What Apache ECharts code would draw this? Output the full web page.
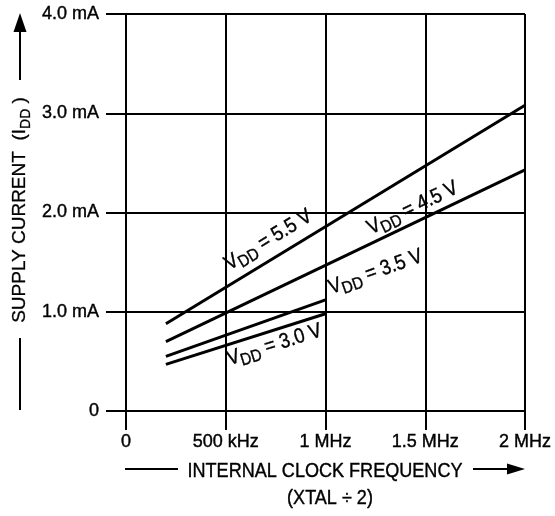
<!DOCTYPE html>
<html><head><meta charset="utf-8">
<script src="https://cdn.jsdelivr.net/npm/echarts@6/dist/echarts.min.js"></script>
<style>html,body{margin:0;padding:0;background:#fff}#c{width:555px;height:516px}</style>
</head><body><div id="c"></div>
<script>
// Data (frequency in MHz, supply current in mA)
const freqLong = [0.2, 2.0];
const freqShort = [0.2, 1.0];
const vdd55 = [0.88, 3.08];
const vdd45 = [0.70, 2.43];
const vdd35 = [0.55, 1.12];
const vdd30 = [0.47, 0.98];
const xTickValues = [0, 0.5, 1, 1.5, 2];
const xTickLabels = ['0', '500 kHz', '1 MHz', '1.5 MHz', '2 MHz'];
const yTickValues = [0, 1, 2, 3, 4];
const yTickLabels = ['0', '1.0 mA', '2.0 mA', '3.0 mA', '4.0 mA'];
const curveNames = ['5.5 V', '4.5 V', '3.5 V', '3.0 V'];
// label anchors in data coordinates [MHz, mA]
const labelAnchorX = [0.714, 1.437, 1.251, 0.744];
const labelAnchorY = [1.722, 2.044, 1.400, 0.665];

const FONT = "'Liberation Sans', Arial, sans-serif";
const chart = echarts.init(document.getElementById('c'), null, {renderer: 'canvas'});

function pairs(xs, ys) { return xs.map((x, i) => [x, ys[i]]); }
const curves = [pairs(freqLong, vdd55), pairs(freqLong, vdd45), pairs(freqShort, vdd35), pairs(freqShort, vdd30)];

const tickLabelStyle = {color: '#000', fontSize: 18, fontFamily: FONT, textBorderColor: '#000', textBorderWidth: 0.4};

chart.setOption({
  animation: false,
  backgroundColor: '#fff',
  grid: {left: 126, right: 30, top: 14, bottom: 105, containLabel: false},
  xAxis: {
    type: 'value', min: 0, max: 2, interval: 0.5,
    axisLine: {show: true, lineStyle: {color: '#000', width: 2}},
    axisTick: {show: true, length: 19, lineStyle: {color: '#000', width: 2}},
    splitLine: {show: true, lineStyle: {color: '#000', width: 2}},
    axisLabel: Object.assign({margin: 22,
      formatter: v => { const i = xTickValues.indexOf(v); return i >= 0 ? xTickLabels[i] : ''; }}, tickLabelStyle)
  },
  yAxis: {
    type: 'value', min: 0, max: 4, interval: 1,
    axisLine: {show: true, lineStyle: {color: '#000', width: 2}},
    axisTick: {show: true, length: 20, lineStyle: {color: '#000', width: 2}},
    splitLine: {show: true, lineStyle: {color: '#000', width: 2}},
    axisLabel: Object.assign({margin: 27,
      formatter: v => { const i = yTickValues.indexOf(v); return i >= 0 ? yTickLabels[i] : ''; }}, tickLabelStyle)
  },
  series: curves.map((d, i) => ({
    type: 'line', name: curveNames[i], data: d, showSymbol: false, silent: true,
    lineStyle: {color: '#000', width: 3}
  }))
});

const rich = {
  v: {fontSize: 21, fontFamily: FONT, fill: '#000', stroke: '#000', lineWidth: 0.4, lineHeight: 28, verticalAlign: 'middle'},
  s: {fontSize: 17, fontFamily: FONT, fill: '#000', stroke: '#000', lineWidth: 0.4, lineHeight: 18, verticalAlign: 'bottom'}
};
const richT = {
  v: {fontSize: 19, fontFamily: FONT, fill: '#000', stroke: '#000', lineWidth: 0.3, lineHeight: 26, verticalAlign: 'middle'},
  s: {fontSize: 14, fontFamily: FONT, fill: '#000', stroke: '#000', lineWidth: 0.3, lineHeight: 14, verticalAlign: 'bottom'}
};
const graphics = [];
curves.forEach((d, i) => {
  const p0 = chart.convertToPixel({gridIndex: 0}, d[0]);
  const p1 = chart.convertToPixel({gridIndex: 0}, d[1]);
  const ang = Math.atan2(p0[1] - p1[1], p1[0] - p0[0]);
  const c = chart.convertToPixel({gridIndex: 0}, [labelAnchorX[i], labelAnchorY[i]]);
  graphics.push({
    type: 'text', x: c[0], y: c[1], rotation: ang, scaleX: 0.88, z: 10,
    style: {text: '{v|V}{s|DD}{v| = ' + curveNames[i] + '}', rich: rich, align: 'center', verticalAlign: 'middle', fill: '#000'}
  });
});
// axis titles
graphics.push({
  type: 'text', x: 20, y: 210, rotation: Math.PI / 2, z: 10,
  style: {text: '{v|SUPPLY CURRENT  (I}{s|DD}{v| )}', rich: richT, align: 'center', verticalAlign: 'middle', fill: '#000'}
});
graphics.push({type: 'line', shape: {x1: 20, y1: 32, x2: 20, y2: 80}, style: {stroke: '#000', lineWidth: 2}});
graphics.push({type: 'polygon', shape: {points: [[20, 13], [13.5, 32], [26.5, 32]]}, style: {fill: '#000'}});
graphics.push({type: 'line', shape: {x1: 20, y1: 338, x2: 20, y2: 410}, style: {stroke: '#000', lineWidth: 2}});
const titleStyle = {fontSize: 21, fontFamily: FONT, fill: '#000', stroke: '#000', lineWidth: 0.4, align: 'center', verticalAlign: 'middle'};
graphics.push({
  type: 'text', x: 325, y: 471, scaleX: 0.86, z: 10,
  style: Object.assign({text: 'INTERNAL CLOCK FREQUENCY'}, titleStyle)
});
graphics.push({
  type: 'text', x: 330, y: 498, scaleX: 0.86, z: 10,
  style: Object.assign({text: '(XTAL \u00F7 2)'}, titleStyle)
});
graphics.push({type: 'line', shape: {x1: 125, y1: 469, x2: 178, y2: 469}, style: {stroke: '#000', lineWidth: 2}});
graphics.push({type: 'line', shape: {x1: 473, y1: 469, x2: 510, y2: 469}, style: {stroke: '#000', lineWidth: 2}});
graphics.push({type: 'polygon', shape: {points: [[525, 469], [507, 463.5], [507, 474.5]]}, style: {fill: '#000'}});
chart.setOption({graphic: graphics});
</script></body></html>
